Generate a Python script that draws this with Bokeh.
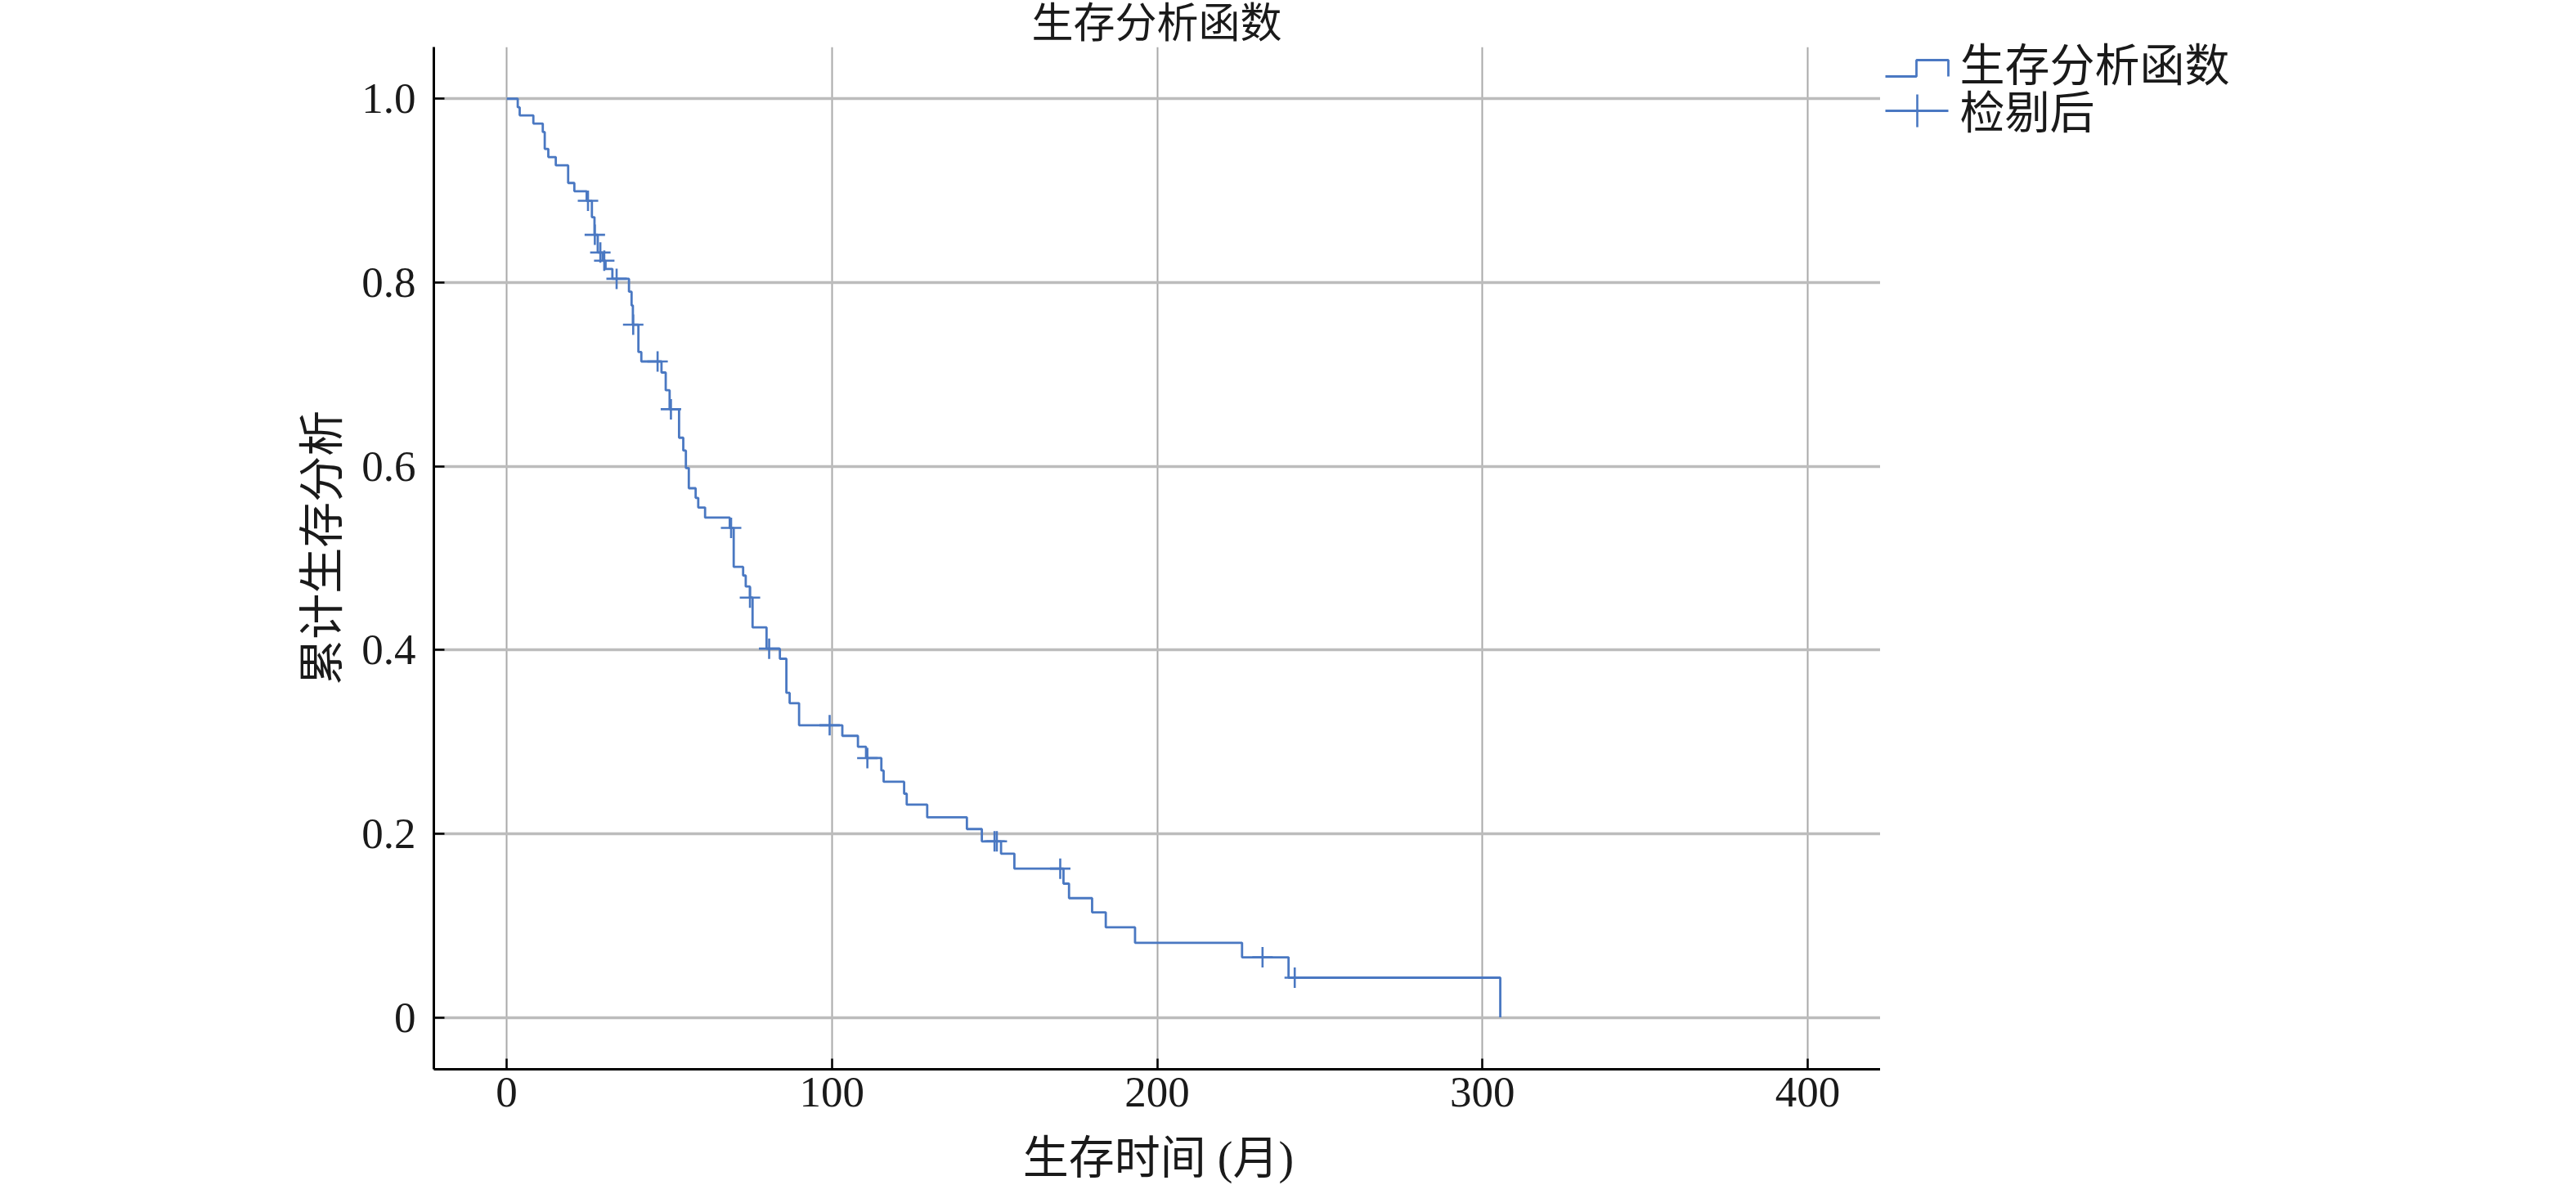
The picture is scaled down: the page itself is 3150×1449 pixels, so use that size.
import math
from bokeh.plotting import figure
from bokeh.models import Range1d, FixedTicker
from bokeh.layouts import row, column
from bokeh.embed import file_html
from bokeh.resources import INLINE
from bokeh.core.properties import value

# ---------------- data ----------------
title_text = "生存分析函数"
x_label_text = "生存时间 (月)"
y_label_text = "累计生存分析"
legend_labels = ["生存分析函数", "检剔后"]

x_ticks = [0, 100, 200, 300, 400]
x_tick_labels = ["0", "100", "200", "300", "400"]
y_ticks = [0, 0.2, 0.4, 0.6, 0.8, 1.0]
y_tick_labels = ["0", "0.2", "0.4", "0.6", "0.8", "1.0"]

# Kaplan-Meier step points (time in months, cumulative survival after the step)
km_times = [0, 3.4, 4.0, 8.2, 11.1, 11.7, 12.8, 15.1, 18.9, 20.8, 24.6, 26.2, 27.0,
            28.0, 29.5, 30.4, 32.5, 37.6, 38.4, 38.8, 40.5, 41.4, 47.6, 48.9, 50.1,
            53.0, 54.3, 55.1, 56.0, 58.1, 58.9, 61.0, 68.6, 69.8, 72.7, 73.5, 74.8,
            75.6, 79.9, 84.0, 86.0, 87.0, 89.9, 103.2, 108.0, 110.5, 115.2, 115.9,
            122.2, 123.0, 129.3, 141.5, 146.1, 152.0, 156.1, 171.2, 172.9, 180.0,
            184.2, 193.2, 226.1, 240.4, 305.5]
km_survival = [1.0, 0.9907, 0.9819, 0.9730, 0.9638, 0.9454, 0.9365, 0.9275, 0.9083,
               0.8993, 0.8889, 0.8711, 0.8519, 0.8326, 0.8237, 0.8148, 0.8040, 0.7900,
               0.7750, 0.7540, 0.7243, 0.7140, 0.7020, 0.6827, 0.6620, 0.6310, 0.6170,
               0.5980, 0.5760, 0.5655, 0.5550, 0.5440, 0.5328, 0.4904, 0.4810, 0.4690,
               0.4570, 0.4245, 0.4014, 0.3904, 0.3533, 0.3420, 0.3180, 0.3065, 0.2945,
               0.2823, 0.2687, 0.2565, 0.2435, 0.2316, 0.2178, 0.2050, 0.1916, 0.1782,
               0.1619, 0.1456, 0.1298, 0.1144, 0.0980, 0.0812, 0.0654, 0.0432, 0.0]

# censored observations
censor_times = [25.0, 27.1, 28.8, 30.0, 33.8, 38.9, 46.4, 50.5, 69.0, 74.8, 80.7,
                99.3, 110.9, 150.0, 150.7, 170.2, 232.4, 242.3]
censor_survival = [0.8889, 0.8519, 0.8326, 0.8237, 0.8040, 0.7540, 0.7140, 0.6620,
                   0.5328, 0.4570, 0.4014, 0.3180, 0.2823, 0.1916, 0.1916, 0.1619,
                   0.0654, 0.0432]

# ---------------- styling / layout ----------------
BLUE = "#4a78c2"
INK = "#1a1a1a"
TXT_FONT = "Liberation Serif, Noto Sans CJK SC"
SERIF = "Liberation Serif"
TITLE_SIZE = "51px"
LABEL_SIZE = "56px"
LEGEND_SIZE = "55px"
TICK_SIZE = "53px"

LEFT_W = 430          # strip holding the y-axis title
FRAME_L = 530         # left edge of plotting area
FRAME_R = 2299        # right edge of plotting area
TOP_H = 57            # strip holding the chart title
FRAME_B = 1307        # bottom edge of plotting area
MID_B = 1380          # bottom of the main figure (tick labels inside)
BOT_H = 68            # strip holding the x-axis title
LEG_W = 840
TOTAL_H = MID_B + BOT_H


def strip(w, h):
    f = figure(width=w, height=h, x_range=Range1d(0, w), y_range=Range1d(h, 0),
               output_backend="svg", toolbar_location=None, title=None,
               x_axis_location=None, y_axis_location=None, min_border=0)
    f.grid.visible = False
    f.outline_line_color = None
    f.background_fill_color = "white"
    f.border_fill_color = "white"
    return f


# main plot
p = figure(width=FRAME_R - LEFT_W, height=MID_B - TOP_H, title=None,
           x_range=Range1d(-22.4, 422.4), y_range=Range1d(-0.0565, 1.0563),
           output_backend="svg", toolbar_location=None,
           min_border_left=FRAME_L - LEFT_W, min_border_right=0,
           min_border_top=0, min_border_bottom=MID_B - FRAME_B)
p.outline_line_color = None
p.background_fill_color = "white"
p.border_fill_color = "white"

p.xaxis.ticker = FixedTicker(ticks=x_ticks)
p.yaxis.ticker = FixedTicker(ticks=y_ticks)
p.xaxis.major_label_overrides = dict(zip(x_ticks, x_tick_labels))
p.yaxis.major_label_overrides = dict(zip(y_ticks, y_tick_labels))
for ax in (p.xaxis, p.yaxis):
    ax.axis_line_color = "black"
    ax.axis_line_width = 3
    ax.major_tick_in = 13
    ax.major_tick_out = 0
    ax.major_tick_line_color = "black"
    ax.major_tick_line_width = 2.5
    ax.minor_tick_line_color = None
    ax.major_label_text_font = SERIF
    ax.major_label_text_font_size = TICK_SIZE
    ax.major_label_text_color = INK
p.xaxis.major_label_standoff = 10
p.yaxis.major_label_standoff = 22

p.xgrid.ticker = FixedTicker(ticks=x_ticks)
p.ygrid.ticker = FixedTicker(ticks=y_ticks)
p.xgrid.grid_line_color = "#a9a9a9"
p.xgrid.grid_line_width = 2
p.ygrid.grid_line_color = "#bcbcbc"
p.ygrid.grid_line_width = 3.5

p.step(x=km_times, y=km_survival, mode="after", line_color=BLUE, line_width=2.8)
p.scatter(x=censor_times, y=censor_survival, marker="cross", size=25,
          line_color=BLUE, line_width=2.6)

# title strip
t = strip(FRAME_R, TOP_H)
t.text(x=[1414], y=[28.5], text=[title_text], text_font=value(TXT_FONT),
       text_font_size=TITLE_SIZE, text_align="center", text_baseline="middle",
       text_color=INK)

# y-axis title strip
yl = strip(LEFT_W, MID_B - TOP_H)
yl.text(x=[393], y=[648], text=[y_label_text], text_font=value(TXT_FONT),
        text_font_size=LABEL_SIZE, text_align="center", text_baseline="middle",
        angle=math.pi / 2, text_color=INK)

# x-axis title strip
xl = strip(FRAME_R, BOT_H)
xl.text(x=[1416], y=[35], text=[x_label_text], text_font=value(TXT_FONT),
        text_font_size=LABEL_SIZE, text_align="center", text_baseline="middle",
        text_color=INK)

# legend panel (right of the plot)
q = strip(LEG_W, TOTAL_H)
q.line(x=[6, 44, 44, 83, 83], y=[93, 93, 73, 73, 93], line_color=BLUE, line_width=2.8)
q.line(x=[6, 83], y=[135, 135], line_color=BLUE, line_width=2.8)
q.line(x=[45, 45], y=[115, 155], line_color=BLUE, line_width=2.6)
q.text(x=[97, 97], y=[79.5, 138], text=legend_labels, text_font=value(TXT_FONT),
       text_font_size=LEGEND_SIZE, text_baseline="middle", text_align="left",
       text_color=INK)

layout = row(column(t, row(yl, p), xl), q)
open("out.html", "w").write(file_html(layout, INLINE))
